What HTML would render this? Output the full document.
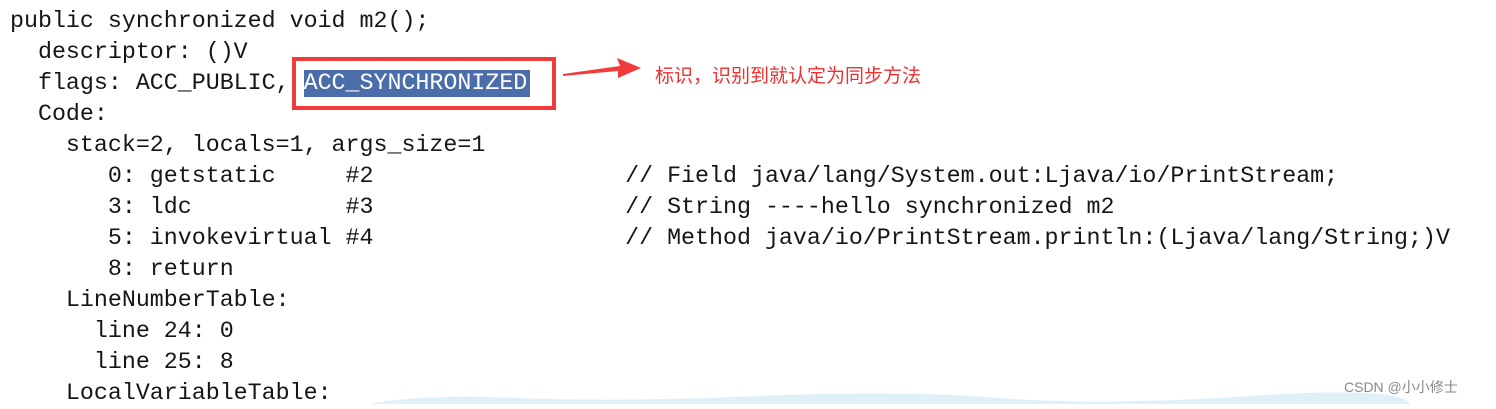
<!DOCTYPE html>
<html><head><meta charset="utf-8"><style>
html,body{margin:0;padding:0;background:#fff;}
body{width:1496px;height:404px;position:relative;overflow:hidden;}
.l{position:absolute;left:10px;font-family:"Liberation Mono",monospace;font-size:23.3px;color:#151515;white-space:pre;line-height:31px;height:31px;}
.hl{position:absolute;left:304px;top:70px;width:226px;height:27px;background:#4b6eab;}
.box{position:absolute;left:292px;top:57px;width:256px;height:45px;border:4px solid #f33a3a;}
.cn{position:absolute;left:655px;top:61px;font-family:"Liberation Sans","Noto Sans CJK SC",sans-serif;font-size:19px;color:#ee3030;white-space:nowrap;}
.wm{position:absolute;left:1344px;top:377px;font-family:"Liberation Sans","Noto Sans CJK SC",sans-serif;font-size:14px;color:#888;}
</style></head><body>
<div class="hl"></div>
<div class="box"></div>
<div class="l" style="top:6px">public synchronized void m2();</div>
<div class="l" style="top:37px">  descriptor: ()V</div>
<div class="l" style="top:68px">  flags: ACC_PUBLIC, <span style="color:#fff">ACC_SYNCHRONIZED</span></div>
<div class="l" style="top:99px">  Code:</div>
<div class="l" style="top:130px">    stack=2, locals=1, args_size=1</div>
<div class="l" style="top:161px">       0: getstatic     #2                  // Field java/lang/System.out:Ljava/io/PrintStream;</div>
<div class="l" style="top:192px">       3: ldc           #3                  // String ----hello synchronized m2</div>
<div class="l" style="top:223px">       5: invokevirtual #4                  // Method java/io/PrintStream.println:(Ljava/lang/String;)V</div>
<div class="l" style="top:254px">       8: return</div>
<div class="l" style="top:285px">    LineNumberTable:</div>
<div class="l" style="top:316px">      line 24: 0</div>
<div class="l" style="top:347px">      line 25: 8</div>
<div class="l" style="top:378px">    LocalVariableTable:</div>
<svg style="position:absolute;left:0;top:0" width="1496" height="404">
<polygon points="563,74 620,66 617,58 641,68 618,78 618,71 563,76" fill="#f33a3a"/>
<path d="M370,404 Q420,394 520,398 T760,396 T1000,398 T1250,396 T1410,404 Z" fill="#dff0f8"/>
</svg>
<div class="cn">标识，识别到就认定为同步方法</div>
<div class="wm">CSDN @小小修士</div>
</body></html>
